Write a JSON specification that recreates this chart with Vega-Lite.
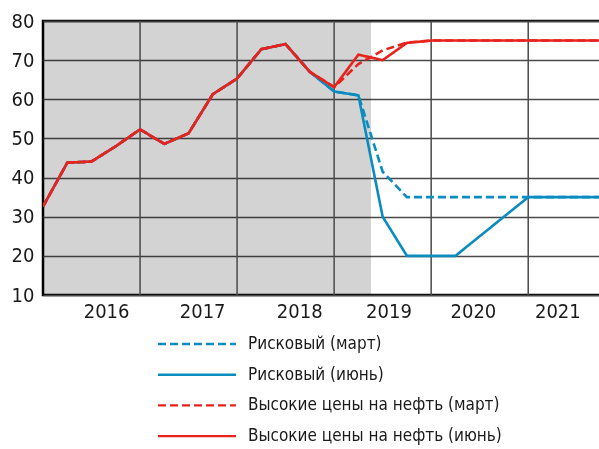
{
  "$schema": "https://vega.github.io/schema/vega-lite/v6.json",
  "width": 558,
  "height": 274,
  "autosize": {"type": "none"},
  "padding": {"left": 43, "top": 21, "right": 0, "bottom": 154},
  "background": "white",
  "datasets": {
    "shade": [{"start": 2016, "end": 2019.38}],
    "vgrid": [{"yr": 2017}, {"yr": 2018}, {"yr": 2019}, {"yr": 2020}, {"yr": 2021}],
    "series": [
      {"s": "Рисковый (март)", "t": 2016.00, "v": 32.6},
      {"s": "Рисковый (март)", "t": 2016.25, "v": 43.8},
      {"s": "Рисковый (март)", "t": 2016.50, "v": 44.1},
      {"s": "Рисковый (март)", "t": 2016.75, "v": 48.0},
      {"s": "Рисковый (март)", "t": 2017.00, "v": 52.3},
      {"s": "Рисковый (март)", "t": 2017.25, "v": 48.6},
      {"s": "Рисковый (март)", "t": 2017.50, "v": 51.3},
      {"s": "Рисковый (март)", "t": 2017.75, "v": 61.3},
      {"s": "Рисковый (март)", "t": 2018.00, "v": 65.3},
      {"s": "Рисковый (март)", "t": 2018.25, "v": 72.8},
      {"s": "Рисковый (март)", "t": 2018.50, "v": 74.1},
      {"s": "Рисковый (март)", "t": 2018.75, "v": 67.0},
      {"s": "Рисковый (март)", "t": 2019.00, "v": 62.0},
      {"s": "Рисковый (март)", "t": 2019.25, "v": 61.0},
      {"s": "Рисковый (март)", "t": 2019.50, "v": 41.5},
      {"s": "Рисковый (март)", "t": 2019.75, "v": 35},
      {"s": "Рисковый (март)", "t": 2020.00, "v": 35},
      {"s": "Рисковый (март)", "t": 2020.25, "v": 35},
      {"s": "Рисковый (март)", "t": 2020.50, "v": 35},
      {"s": "Рисковый (март)", "t": 2020.75, "v": 35},
      {"s": "Рисковый (март)", "t": 2021.00, "v": 35},
      {"s": "Рисковый (март)", "t": 2021.25, "v": 35},
      {"s": "Рисковый (март)", "t": 2021.50, "v": 35},
      {"s": "Рисковый (март)", "t": 2021.75, "v": 35},
      {"s": "Рисковый (июнь)", "t": 2016.00, "v": 32.6},
      {"s": "Рисковый (июнь)", "t": 2016.25, "v": 43.8},
      {"s": "Рисковый (июнь)", "t": 2016.50, "v": 44.1},
      {"s": "Рисковый (июнь)", "t": 2016.75, "v": 48.0},
      {"s": "Рисковый (июнь)", "t": 2017.00, "v": 52.3},
      {"s": "Рисковый (июнь)", "t": 2017.25, "v": 48.6},
      {"s": "Рисковый (июнь)", "t": 2017.50, "v": 51.3},
      {"s": "Рисковый (июнь)", "t": 2017.75, "v": 61.3},
      {"s": "Рисковый (июнь)", "t": 2018.00, "v": 65.3},
      {"s": "Рисковый (июнь)", "t": 2018.25, "v": 72.8},
      {"s": "Рисковый (июнь)", "t": 2018.50, "v": 74.1},
      {"s": "Рисковый (июнь)", "t": 2018.75, "v": 67.0},
      {"s": "Рисковый (июнь)", "t": 2019.00, "v": 62.0},
      {"s": "Рисковый (июнь)", "t": 2019.25, "v": 61.0},
      {"s": "Рисковый (июнь)", "t": 2019.50, "v": 30},
      {"s": "Рисковый (июнь)", "t": 2019.75, "v": 20},
      {"s": "Рисковый (июнь)", "t": 2020.00, "v": 20},
      {"s": "Рисковый (июнь)", "t": 2020.25, "v": 20},
      {"s": "Рисковый (июнь)", "t": 2020.50, "v": 25},
      {"s": "Рисковый (июнь)", "t": 2020.75, "v": 30},
      {"s": "Рисковый (июнь)", "t": 2021.00, "v": 35},
      {"s": "Рисковый (июнь)", "t": 2021.25, "v": 35},
      {"s": "Рисковый (июнь)", "t": 2021.50, "v": 35},
      {"s": "Рисковый (июнь)", "t": 2021.75, "v": 35},
      {"s": "Высокие цены на нефть (март)", "t": 2016.00, "v": 32.6},
      {"s": "Высокие цены на нефть (март)", "t": 2016.25, "v": 43.8},
      {"s": "Высокие цены на нефть (март)", "t": 2016.50, "v": 44.1},
      {"s": "Высокие цены на нефть (март)", "t": 2016.75, "v": 48.0},
      {"s": "Высокие цены на нефть (март)", "t": 2017.00, "v": 52.3},
      {"s": "Высокие цены на нефть (март)", "t": 2017.25, "v": 48.6},
      {"s": "Высокие цены на нефть (март)", "t": 2017.50, "v": 51.3},
      {"s": "Высокие цены на нефть (март)", "t": 2017.75, "v": 61.3},
      {"s": "Высокие цены на нефть (март)", "t": 2018.00, "v": 65.3},
      {"s": "Высокие цены на нефть (март)", "t": 2018.25, "v": 72.8},
      {"s": "Высокие цены на нефть (март)", "t": 2018.50, "v": 74.1},
      {"s": "Высокие цены на нефть (март)", "t": 2018.75, "v": 67.0},
      {"s": "Высокие цены на нефть (март)", "t": 2019.00, "v": 63.1},
      {"s": "Высокие цены на нефть (март)", "t": 2019.25, "v": 69.0},
      {"s": "Высокие цены на нефть (март)", "t": 2019.50, "v": 72.5},
      {"s": "Высокие цены на нефть (март)", "t": 2019.75, "v": 74.5},
      {"s": "Высокие цены на нефть (март)", "t": 2020.00, "v": 75},
      {"s": "Высокие цены на нефть (март)", "t": 2020.25, "v": 75},
      {"s": "Высокие цены на нефть (март)", "t": 2020.50, "v": 75},
      {"s": "Высокие цены на нефть (март)", "t": 2020.75, "v": 75},
      {"s": "Высокие цены на нефть (март)", "t": 2021.00, "v": 75},
      {"s": "Высокие цены на нефть (март)", "t": 2021.25, "v": 75},
      {"s": "Высокие цены на нефть (март)", "t": 2021.50, "v": 75},
      {"s": "Высокие цены на нефть (март)", "t": 2021.75, "v": 75},
      {"s": "Высокие цены на нефть (июнь)", "t": 2016.00, "v": 32.6},
      {"s": "Высокие цены на нефть (июнь)", "t": 2016.25, "v": 43.8},
      {"s": "Высокие цены на нефть (июнь)", "t": 2016.50, "v": 44.1},
      {"s": "Высокие цены на нефть (июнь)", "t": 2016.75, "v": 48.0},
      {"s": "Высокие цены на нефть (июнь)", "t": 2017.00, "v": 52.3},
      {"s": "Высокие цены на нефть (июнь)", "t": 2017.25, "v": 48.6},
      {"s": "Высокие цены на нефть (июнь)", "t": 2017.50, "v": 51.3},
      {"s": "Высокие цены на нефть (июнь)", "t": 2017.75, "v": 61.3},
      {"s": "Высокие цены на нефть (июнь)", "t": 2018.00, "v": 65.3},
      {"s": "Высокие цены на нефть (июнь)", "t": 2018.25, "v": 72.8},
      {"s": "Высокие цены на нефть (июнь)", "t": 2018.50, "v": 74.1},
      {"s": "Высокие цены на нефть (июнь)", "t": 2018.75, "v": 67.0},
      {"s": "Высокие цены на нефть (июнь)", "t": 2019.00, "v": 63.1},
      {"s": "Высокие цены на нефть (июнь)", "t": 2019.25, "v": 71.4},
      {"s": "Высокие цены на нефть (июнь)", "t": 2019.50, "v": 70.0},
      {"s": "Высокие цены на нефть (июнь)", "t": 2019.75, "v": 74.4},
      {"s": "Высокие цены на нефть (июнь)", "t": 2020.00, "v": 75},
      {"s": "Высокие цены на нефть (июнь)", "t": 2020.25, "v": 75},
      {"s": "Высокие цены на нефть (июнь)", "t": 2020.50, "v": 75},
      {"s": "Высокие цены на нефть (июнь)", "t": 2020.75, "v": 75},
      {"s": "Высокие цены на нефть (июнь)", "t": 2021.00, "v": 75},
      {"s": "Высокие цены на нефть (июнь)", "t": 2021.25, "v": 75},
      {"s": "Высокие цены на нефть (июнь)", "t": 2021.50, "v": 75},
      {"s": "Высокие цены на нефть (июнь)", "t": 2021.75, "v": 75}
    ]
  },
  "layer": [
    {
      "data": {"name": "shade"},
      "mark": {"type": "rect", "color": "#d3d3d3", "blend": "multiply"},
      "encoding": {
        "x": {"field": "start", "type": "quantitative", "scale": {"domain": [2016, 2021.75], "nice": false, "zero": false},
          "axis": {"values": [2016.65, 2017.64, 2018.64, 2019.56, 2020.43, 2021.3], "labelExpr": "floor(datum.value)", "grid": false, "ticks": false, "domain": false, "title": null, "labelFontSize": 20, "labelPadding": 6}},
        "x2": {"field": "end"}
      }
    },
    {
      "data": {"name": "vgrid"},
      "mark": {"type": "rule", "color": "#4a4a4a", "strokeWidth": 1.5},
      "encoding": {
        "x": {"field": "yr", "type": "quantitative"}
      }
    },
    {
      "data": {"name": "series"},
      "mark": {"type": "line", "strokeWidth": 2.6, "clip": true},
      "encoding": {
        "x": {"field": "t", "type": "quantitative"},
        "y": {"field": "v", "type": "quantitative", "scale": {"domain": [10, 80], "nice": false, "zero": false},
          "axis": {"values": [10, 20, 30, 40, 50, 60, 70, 80], "grid": true, "gridColor": "#4a4a4a", "gridWidth": 1.5, "ticks": false, "domain": false, "title": null, "labelFontSize": 20, "labelPadding": 9}},
        "color": {"field": "s", "type": "nominal", "title": null,
          "scale": {"domain": ["Рисковый (март)", "Рисковый (июнь)", "Высокие цены на нефть (март)", "Высокие цены на нефть (июнь)"], "range": ["#0a8cbf", "#0a8cbf", "#e8231c", "#e8231c"]}},
        "strokeDash": {"field": "s", "type": "nominal", "title": null,
          "scale": {"domain": ["Рисковый (март)", "Рисковый (июнь)", "Высокие цены на нефть (март)", "Высокие цены на нефть (июнь)"], "range": [[8, 4], [1, 0], [8, 4], [1, 0]]}},
        "order": {"field": "t", "type": "quantitative"}
      }
    }
  ],
  "config": {
    "view": {"stroke": "black", "strokeWidth": 2.5},
    "font": "Liberation Sans Narrow, DejaVu Sans Condensed, sans-serif",
    "axis": {"labelFont": "Liberation Sans Narrow, DejaVu Sans Condensed, sans-serif", "labelColor": "#1a1a1a"},
    "legend": {
      "orient": "none", "legendX": 143, "legendY": 312,
      "symbolType": "M-4,0H4", "symbolSize": 380, "symbolStrokeWidth": 2.4,
      "labelFont": "Liberation Sans Narrow, DejaVu Sans Condensed, sans-serif",
      "labelFontSize": 17, "labelColor": "#1a1a1a", "labelLimit": 400, "labelOffset": 40,
      "rowPadding": 11.7, "padding": 0
    }
  }
}
